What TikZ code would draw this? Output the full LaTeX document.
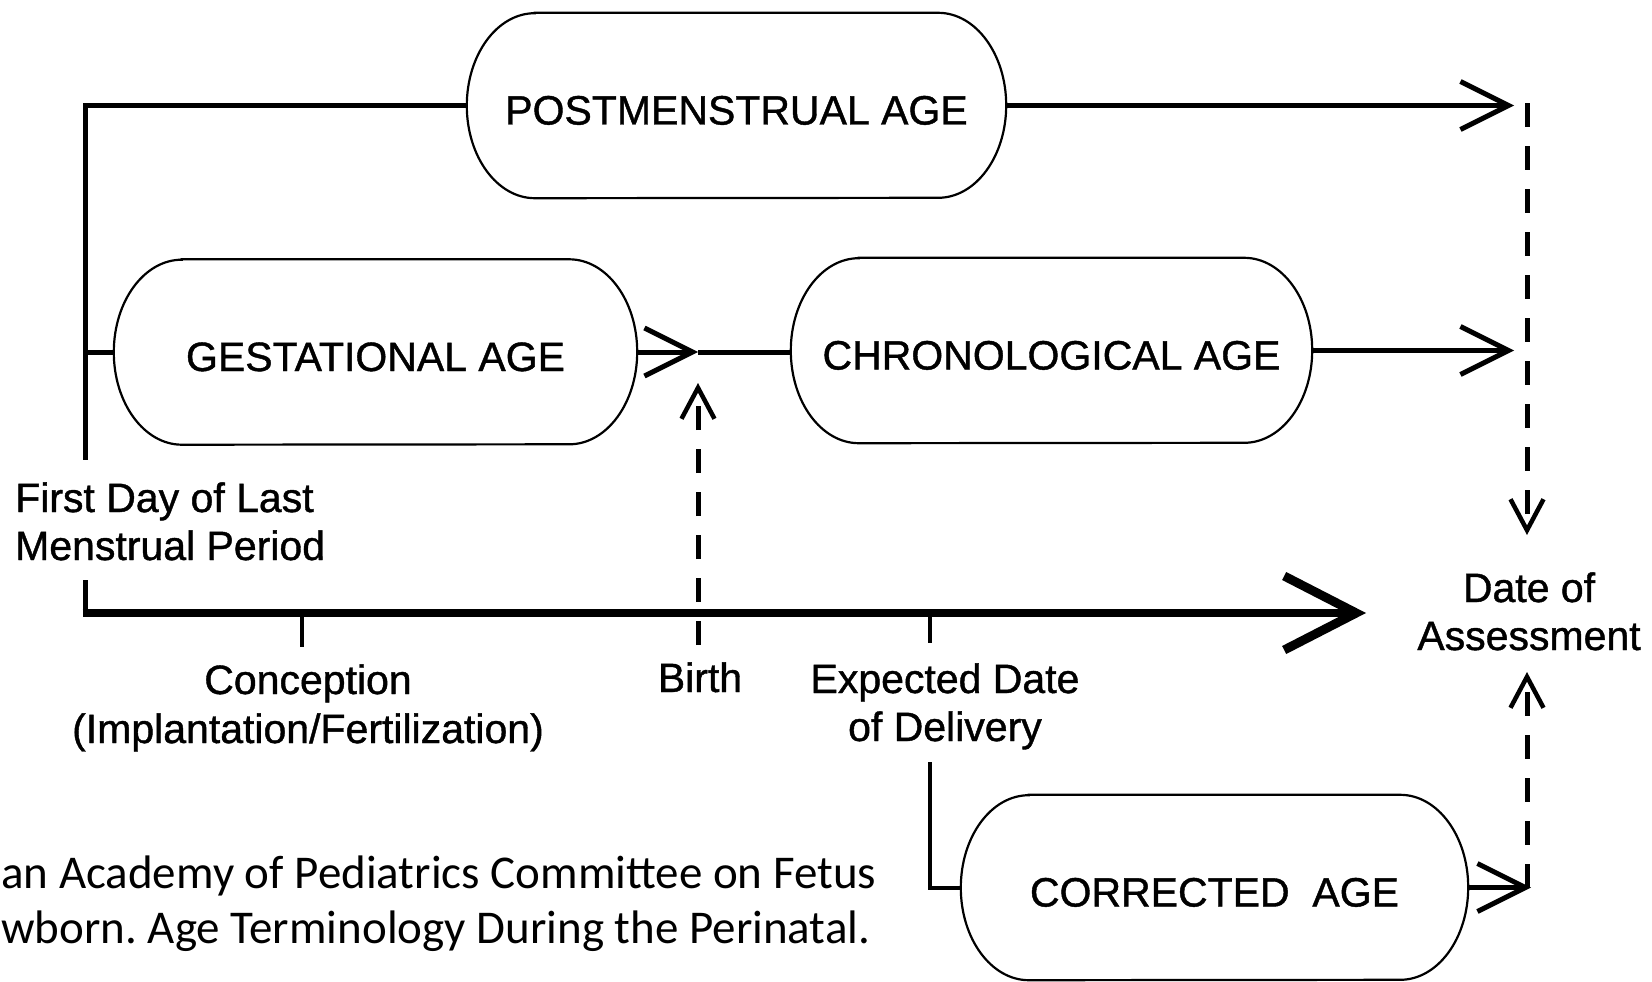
\documentclass[tikz,border=0pt]{standalone}
\usepackage{fontspec}
\setmainfont[FakeBold=1]{Liberation Sans}
\newfontfamily\footfont{Carlito}
\usetikzlibrary{arrows.meta}
\frenchspacing
\tikzset{
  pill/.style={draw=none, inner sep=0pt, minimum height=185pt, text height=38pt, text depth=0pt, font=\fontsize{41}{48}\selectfont},
  boxline/.style={line width=2.2pt, black},
  conn/.style={line width=5pt},
  thinconn/.style={line width=4pt},
  tickline/.style={line width=4pt},
  timeline/.style={line width=8.5pt, -{Straight Barb[length=72pt, width=74pt, line width=9pt]}},
  bigtip/.style={-{Straight Barb[length=48pt, width=48pt]}},
  smalltip/.style={-{Straight Barb[length=31pt, width=33pt, line width=4.5pt]}},
  dashconn/.style={line width=5pt, dash pattern=on 24pt off 19pt},
  lbl/.style={font=\fontsize{41}{48}\selectfont, inner sep=0pt, anchor=base},
  foot/.style={font=\footfont\fontsize{47}{57}\selectfont, inner sep=0pt, anchor=base west},
}
\newcommand\drawpill[1]{%
  \draw[boxline] ([xshift=68pt]#1.north west) -- ([xshift=-68pt]#1.north east)
    arc[start angle=90, end angle=-90, x radius=68pt, y radius=92.5pt]
    -- ([xshift=68pt]#1.south west)
    arc[start angle=270, end angle=90, x radius=68pt, y radius=92.5pt] -- cycle;}
\begin{document}
\begin{tikzpicture}[x=1pt, y=-1pt]
\useasboundingbox (0,0) rectangle (1652,982);
% boxes
\node[pill, minimum width=539pt] (pma) at (736.5,105.5) {POSTMENSTRUAL AGE};
\node[pill, minimum width=523pt] (ga) at (375.5,352) {GESTATIONAL AGE};
\node[pill, minimum width=521pt] (ca) at (1051.5,350.5) {CHRONOLOGICAL AGE};
\node[pill, minimum width=507pt] (cor) at (1214.5,887.5) {CORRECTED\ \ AGE};
\drawpill{pma}\drawpill{ga}\drawpill{ca}\drawpill{cor}
% labels
\node[lbl, anchor=base west] (lmp1) at (15,512) {First Day of Last};
\node[lbl, anchor=base west] (lmp2) at (15,560) {Menstrual Period};
\node[lbl] (conc1) at (308,694) {Conception};
\node[lbl] (conc2) at (308,743) {(Implantation/Fertilization)};
\node[lbl] (birth) at (700,692) {Birth};
\node[lbl] (edd1) at (945,693) {Expected Date};
\node[lbl] (edd2) at (945,741) {of Delivery};
\node[lbl] (doa1) at (1529,602) {Date of};
\node[lbl] (doa2) at (1529,650) {Assessment};
\node[foot] (ref1) at (1,888) {an Academy of Pediatrics Committee on Fetus};
\node[foot] (ref2) at (1,943) {wborn. Age Terminology During the Perinatal.};
% coordinates
\coordinate (tl) at (85,105.5);
\coordinate (lmpA) at (85,460);
\coordinate (gaj) at (85,352);
\coordinate (lmpB) at (85,580);
\coordinate (tl0) at (85,613);
\coordinate (tlend) at (1366,613);
\coordinate (conc) at (302,613);
\coordinate (conct) at (302,647);
\coordinate (birtht) at (698,645);
\coordinate (birthtip) at (698,383);
\coordinate (bpt) at (698,352);
\coordinate (eddt) at (930,613);
\coordinate (eddb) at (930,643);
\coordinate (edda) at (930,762);
\coordinate (pmaend) at (1514,105.5);
\coordinate (caend) at (1514,350.5);
\coordinate (corend) at (1531,887.5);
\coordinate (dtop) at (1527,103);
\coordinate (ddown) at (1527,535);
\coordinate (dbot) at (1527,887.5);
\coordinate (dup) at (1527,672);
% connectors
\draw[conn, line join=miter] (pma.west) -- (tl) -- (lmpA);
\draw[conn] (gaj) -- (ga.west);
\draw[conn] (lmpB) -- (tl0);
\draw[timeline] ([xshift=-2.5pt]tl0) -- (tlend);
\draw[tickline] (conc) -- (conct);
\draw[tickline] (eddt) -- (eddb);
\draw[conn, bigtip] (pma.east) -- (pmaend);
\draw[conn, bigtip] (ca.east) -- (caend);
\draw[conn, bigtip] (ga.east) -- (bpt);
\draw[conn] (bpt) -- (ca.west |- bpt);
\draw[thinconn] (edda) |- (cor.west);
\draw[conn, bigtip] (cor.east) -- (corend);
\draw[dashconn, smalltip] (dtop) -- (ddown);
\draw[dashconn, smalltip] (dbot) -- (dup);
\draw[dashconn, smalltip] (birtht) -- (birthtip);
\end{tikzpicture}
\end{document}
